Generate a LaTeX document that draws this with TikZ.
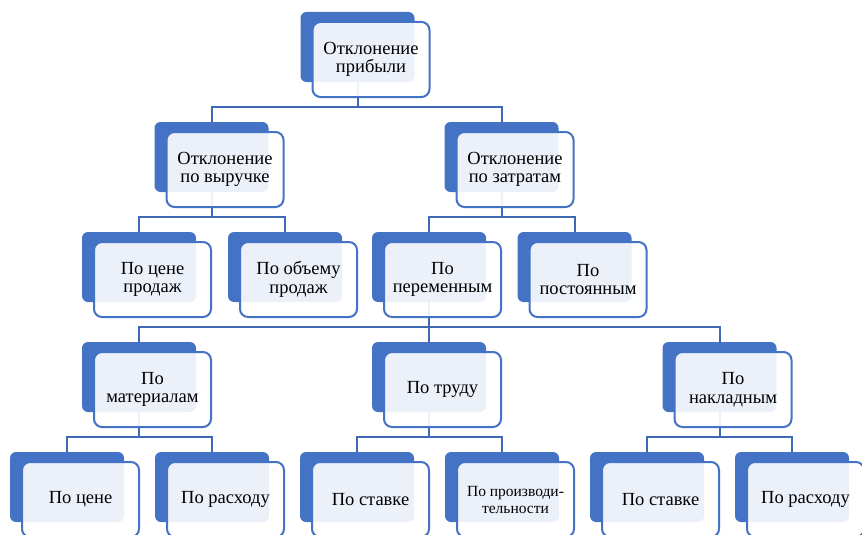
\documentclass[tikz,border=0pt]{standalone}
\usepackage{fontspec}
\setmainfont{Liberation Serif}
\definecolor{sablue}{HTML}{4472C4}
\definecolor{salink}{HTML}{3F68B5}
\tikzset{
  backbox/.style={fill=sablue, rounded corners=6pt, minimum width=114pt, minimum height=70pt, inner sep=0pt},
  frontbox/.style={draw=sablue, line width=2pt, fill=white, fill opacity=0.9, text opacity=1,
    rounded corners=8pt, minimum width=117pt, minimum height=75pt, inner sep=0pt, align=center,
    font=\fontsize{18.5}{18.5}\selectfont},
  smalltext/.style={font=\fontsize{15.5}{17}\selectfont},
  conn/.style={draw=salink, line width=2pt},
}
\newcommand{\sabox}[3]{\node[backbox] (b#1) at (#2pt,-#3pt) {};}
\newcommand{\safront}[3][]{\node[frontbox,#1] (f#2) at ([shift={(13.5pt,-12.5pt)}]b#2.center) {#3};}
\begin{document}
\begin{tikzpicture}
\useasboundingbox (0,0) rectangle (862pt,-535pt);
% back boxes
\sabox{0}{357.5}{47}
\sabox{1a}{211.5}{157}
\sabox{1b}{501.5}{157}
\sabox{2a}{139}{267}
\sabox{2b}{285}{267}
\sabox{2c}{429}{267}
\sabox{2d}{574.5}{267}
\sabox{3a}{139}{377}
\sabox{3b}{429}{377}
\sabox{3c}{719.5}{377}
\sabox{4a}{67}{487}
\sabox{4b}{212}{487}
\sabox{4c}{357}{487}
\sabox{4d}{502}{487}
\sabox{4e}{647}{487}
\sabox{4f}{792}{487}
% connectors
\draw[conn] (b0.south) -- ++(0,-25pt) -| (b1a.north);
\draw[conn] (b0.south) -- ++(0,-25pt) -| (b1b.north);
\draw[conn] (b1a.south) -- ++(0,-25pt) -| (b2a.north);
\draw[conn] (b1a.south) -- ++(0,-25pt) -| (b2b.north);
\draw[conn] (b1b.south) -- ++(0,-25pt) -| (b2c.north);
\draw[conn] (b1b.south) -- ++(0,-25pt) -| (b2d.north);
\draw[conn] (b2c.south) -- ++(0,-25pt) -| (b3a.north);
\draw[conn] (b2c.south) -- (b3b.north);
\draw[conn] (b2c.south) -- ++(0,-25pt) -| (b3c.north);
\draw[conn] (b3a.south) -- ++(0,-25pt) -| (b4a.north);
\draw[conn] (b3a.south) -- ++(0,-25pt) -| (b4b.north);
\draw[conn] (b3b.south) -- ++(0,-25pt) -| (b4c.north);
\draw[conn] (b3b.south) -- ++(0,-25pt) -| (b4d.north);
\draw[conn] (b3c.south) -- ++(0,-25pt) -| (b4e.north);
\draw[conn] (b3c.south) -- ++(0,-25pt) -| (b4f.north);
% front boxes
\safront{0}{Отклонение\\прибыли}
\safront{1a}{Отклонение\\по выручке}
\safront{1b}{Отклонение\\по затратам}
\safront{2a}{По цене\\продаж}
\safront{2b}{По объему\\продаж}
\safront{2c}{По\\переменным}
\safront{2d}{По\\постоянным}
\safront{3a}{По\\материалам}
\safront{3b}{По труду}
\safront{3c}{По\\накладным}
\safront{4a}{По цене}
\safront{4b}{По расходу}
\safront{4c}{По ставке}
\safront[smalltext]{4d}{По производи-\\тельности}
\safront{4e}{По ставке}
\safront{4f}{По расходу}
\end{tikzpicture}
\end{document}
